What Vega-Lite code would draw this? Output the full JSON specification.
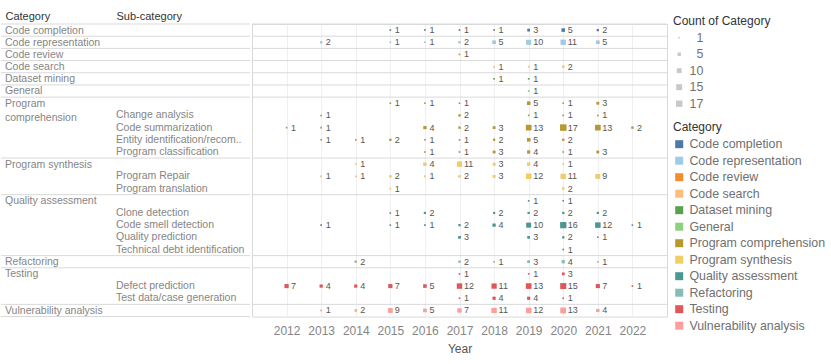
{
  "$schema": "https://vega.github.io/schema/vega-lite/v6.json",
  "padding": {"left": 0, "top": 10, "right": 0, "bottom": 0},
  "background": "white",
  "spacing": 0,
  "config": {
    "font": "Liberation Sans",
    "view": {"stroke": "#d9d9d9"},
    "concat": {"spacing": 0},
    "legend": {
      "titleFontSize": 12,
      "titleFontWeight": "normal",
      "titleColor": "#333333",
      "labelFontSize": 12.4,
      "labelColor": "#707070",
      "rowPadding": 3.5,
      "titlePadding": 4,
      "symbolType": "square",
      "orient": "none"
    }
  },
  "datasets": {
    "rows": [
      {"r": 1, "cat": "Code completion", "catLabel": "Code completion", "sub": "", "line": true},
      {"r": 2, "cat": "Code representation", "catLabel": "Code representation", "sub": "", "line": true},
      {"r": 3, "cat": "Code review", "catLabel": "Code review", "sub": "", "line": true},
      {"r": 4, "cat": "Code search", "catLabel": "Code search", "sub": "", "line": true},
      {"r": 5, "cat": "Dataset mining", "catLabel": "Dataset mining", "sub": "", "line": true},
      {"r": 6, "cat": "General", "catLabel": "General", "sub": "", "line": true},
      {"r": 7, "cat": "Program comprehension", "catLabel": "Program\ncomprehension", "sub": "", "line": true},
      {"r": 8, "cat": "Program comprehension", "catLabel": "", "sub": "Change analysis", "line": false},
      {"r": 9, "cat": "Program comprehension", "catLabel": "", "sub": "Code summarization", "line": false},
      {"r": 10, "cat": "Program comprehension", "catLabel": "", "sub": "Entity identification/recom..", "line": false},
      {"r": 11, "cat": "Program comprehension", "catLabel": "", "sub": "Program classification", "line": false},
      {"r": 12, "cat": "Program synthesis", "catLabel": "Program synthesis", "sub": "", "line": true},
      {"r": 13, "cat": "Program synthesis", "catLabel": "", "sub": "Program Repair", "line": false},
      {"r": 14, "cat": "Program synthesis", "catLabel": "", "sub": "Program translation", "line": false},
      {"r": 15, "cat": "Quality assessment", "catLabel": "Quality assessment", "sub": "", "line": true},
      {"r": 16, "cat": "Quality assessment", "catLabel": "", "sub": "Clone detection", "line": false},
      {"r": 17, "cat": "Quality assessment", "catLabel": "", "sub": "Code smell detection", "line": false},
      {"r": 18, "cat": "Quality assessment", "catLabel": "", "sub": "Quality prediction", "line": false},
      {"r": 19, "cat": "Quality assessment", "catLabel": "", "sub": "Technical debt identification", "line": false},
      {"r": 20, "cat": "Refactoring", "catLabel": "Refactoring", "sub": "", "line": true},
      {"r": 21, "cat": "Testing", "catLabel": "Testing", "sub": "", "line": true},
      {"r": 22, "cat": "Testing", "catLabel": "", "sub": "Defect prediction", "line": false},
      {"r": 23, "cat": "Testing", "catLabel": "", "sub": "Test data/case generation", "line": false},
      {"r": 24, "cat": "Vulnerability analysis", "catLabel": "Vulnerability analysis", "sub": "", "line": true}
    ],
    "cells": [
      {"r": 1, "cat": "Code completion", "year": 2015, "n": 1},
      {"r": 1, "cat": "Code completion", "year": 2016, "n": 1},
      {"r": 1, "cat": "Code completion", "year": 2017, "n": 1},
      {"r": 1, "cat": "Code completion", "year": 2018, "n": 1},
      {"r": 1, "cat": "Code completion", "year": 2019, "n": 3},
      {"r": 1, "cat": "Code completion", "year": 2020, "n": 5},
      {"r": 1, "cat": "Code completion", "year": 2021, "n": 2},
      {"r": 2, "cat": "Code representation", "year": 2013, "n": 2},
      {"r": 2, "cat": "Code representation", "year": 2015, "n": 1},
      {"r": 2, "cat": "Code representation", "year": 2016, "n": 1},
      {"r": 2, "cat": "Code representation", "year": 2017, "n": 2},
      {"r": 2, "cat": "Code representation", "year": 2018, "n": 5},
      {"r": 2, "cat": "Code representation", "year": 2019, "n": 10},
      {"r": 2, "cat": "Code representation", "year": 2020, "n": 11},
      {"r": 2, "cat": "Code representation", "year": 2021, "n": 5},
      {"r": 3, "cat": "Code review", "year": 2017, "n": 1},
      {"r": 4, "cat": "Code search", "year": 2018, "n": 1},
      {"r": 4, "cat": "Code search", "year": 2019, "n": 1},
      {"r": 4, "cat": "Code search", "year": 2020, "n": 2},
      {"r": 5, "cat": "Dataset mining", "year": 2018, "n": 1},
      {"r": 5, "cat": "Dataset mining", "year": 2019, "n": 1},
      {"r": 6, "cat": "General", "year": 2019, "n": 1},
      {"r": 7, "cat": "Program comprehension", "year": 2015, "n": 1},
      {"r": 7, "cat": "Program comprehension", "year": 2016, "n": 1},
      {"r": 7, "cat": "Program comprehension", "year": 2017, "n": 1},
      {"r": 7, "cat": "Program comprehension", "year": 2019, "n": 5},
      {"r": 7, "cat": "Program comprehension", "year": 2020, "n": 1},
      {"r": 7, "cat": "Program comprehension", "year": 2021, "n": 3},
      {"r": 8, "cat": "Program comprehension", "year": 2013, "n": 1},
      {"r": 8, "cat": "Program comprehension", "year": 2017, "n": 2},
      {"r": 8, "cat": "Program comprehension", "year": 2019, "n": 1},
      {"r": 8, "cat": "Program comprehension", "year": 2020, "n": 1},
      {"r": 8, "cat": "Program comprehension", "year": 2021, "n": 1},
      {"r": 9, "cat": "Program comprehension", "year": 2012, "n": 1},
      {"r": 9, "cat": "Program comprehension", "year": 2013, "n": 1},
      {"r": 9, "cat": "Program comprehension", "year": 2016, "n": 4},
      {"r": 9, "cat": "Program comprehension", "year": 2017, "n": 2},
      {"r": 9, "cat": "Program comprehension", "year": 2018, "n": 3},
      {"r": 9, "cat": "Program comprehension", "year": 2019, "n": 13},
      {"r": 9, "cat": "Program comprehension", "year": 2020, "n": 17},
      {"r": 9, "cat": "Program comprehension", "year": 2021, "n": 13},
      {"r": 9, "cat": "Program comprehension", "year": 2022, "n": 2},
      {"r": 10, "cat": "Program comprehension", "year": 2013, "n": 1},
      {"r": 10, "cat": "Program comprehension", "year": 2014, "n": 1},
      {"r": 10, "cat": "Program comprehension", "year": 2015, "n": 2},
      {"r": 10, "cat": "Program comprehension", "year": 2016, "n": 1},
      {"r": 10, "cat": "Program comprehension", "year": 2017, "n": 1},
      {"r": 10, "cat": "Program comprehension", "year": 2018, "n": 2},
      {"r": 10, "cat": "Program comprehension", "year": 2019, "n": 5},
      {"r": 10, "cat": "Program comprehension", "year": 2020, "n": 2},
      {"r": 11, "cat": "Program comprehension", "year": 2016, "n": 1},
      {"r": 11, "cat": "Program comprehension", "year": 2017, "n": 1},
      {"r": 11, "cat": "Program comprehension", "year": 2018, "n": 3},
      {"r": 11, "cat": "Program comprehension", "year": 2019, "n": 4},
      {"r": 11, "cat": "Program comprehension", "year": 2020, "n": 1},
      {"r": 11, "cat": "Program comprehension", "year": 2021, "n": 3},
      {"r": 12, "cat": "Program synthesis", "year": 2014, "n": 1},
      {"r": 12, "cat": "Program synthesis", "year": 2016, "n": 4},
      {"r": 12, "cat": "Program synthesis", "year": 2017, "n": 11},
      {"r": 12, "cat": "Program synthesis", "year": 2018, "n": 3},
      {"r": 12, "cat": "Program synthesis", "year": 2019, "n": 4},
      {"r": 12, "cat": "Program synthesis", "year": 2020, "n": 1},
      {"r": 13, "cat": "Program synthesis", "year": 2013, "n": 1},
      {"r": 13, "cat": "Program synthesis", "year": 2014, "n": 1},
      {"r": 13, "cat": "Program synthesis", "year": 2015, "n": 2},
      {"r": 13, "cat": "Program synthesis", "year": 2016, "n": 1},
      {"r": 13, "cat": "Program synthesis", "year": 2017, "n": 2},
      {"r": 13, "cat": "Program synthesis", "year": 2018, "n": 3},
      {"r": 13, "cat": "Program synthesis", "year": 2019, "n": 12},
      {"r": 13, "cat": "Program synthesis", "year": 2020, "n": 11},
      {"r": 13, "cat": "Program synthesis", "year": 2021, "n": 9},
      {"r": 14, "cat": "Program synthesis", "year": 2015, "n": 1},
      {"r": 14, "cat": "Program synthesis", "year": 2020, "n": 2},
      {"r": 15, "cat": "Quality assessment", "year": 2019, "n": 1},
      {"r": 15, "cat": "Quality assessment", "year": 2020, "n": 1},
      {"r": 16, "cat": "Quality assessment", "year": 2015, "n": 1},
      {"r": 16, "cat": "Quality assessment", "year": 2016, "n": 2},
      {"r": 16, "cat": "Quality assessment", "year": 2018, "n": 2},
      {"r": 16, "cat": "Quality assessment", "year": 2019, "n": 2},
      {"r": 16, "cat": "Quality assessment", "year": 2020, "n": 2},
      {"r": 16, "cat": "Quality assessment", "year": 2021, "n": 2},
      {"r": 17, "cat": "Quality assessment", "year": 2013, "n": 1},
      {"r": 17, "cat": "Quality assessment", "year": 2015, "n": 1},
      {"r": 17, "cat": "Quality assessment", "year": 2016, "n": 1},
      {"r": 17, "cat": "Quality assessment", "year": 2017, "n": 2},
      {"r": 17, "cat": "Quality assessment", "year": 2018, "n": 4},
      {"r": 17, "cat": "Quality assessment", "year": 2019, "n": 10},
      {"r": 17, "cat": "Quality assessment", "year": 2020, "n": 16},
      {"r": 17, "cat": "Quality assessment", "year": 2021, "n": 12},
      {"r": 17, "cat": "Quality assessment", "year": 2022, "n": 1},
      {"r": 18, "cat": "Quality assessment", "year": 2017, "n": 3},
      {"r": 18, "cat": "Quality assessment", "year": 2019, "n": 3},
      {"r": 18, "cat": "Quality assessment", "year": 2020, "n": 2},
      {"r": 18, "cat": "Quality assessment", "year": 2021, "n": 1},
      {"r": 19, "cat": "Quality assessment", "year": 2020, "n": 1},
      {"r": 20, "cat": "Refactoring", "year": 2014, "n": 2},
      {"r": 20, "cat": "Refactoring", "year": 2017, "n": 2},
      {"r": 20, "cat": "Refactoring", "year": 2018, "n": 1},
      {"r": 20, "cat": "Refactoring", "year": 2019, "n": 3},
      {"r": 20, "cat": "Refactoring", "year": 2020, "n": 4},
      {"r": 20, "cat": "Refactoring", "year": 2021, "n": 1},
      {"r": 21, "cat": "Testing", "year": 2017, "n": 1},
      {"r": 21, "cat": "Testing", "year": 2019, "n": 1},
      {"r": 21, "cat": "Testing", "year": 2020, "n": 3},
      {"r": 22, "cat": "Testing", "year": 2012, "n": 7},
      {"r": 22, "cat": "Testing", "year": 2013, "n": 4},
      {"r": 22, "cat": "Testing", "year": 2014, "n": 4},
      {"r": 22, "cat": "Testing", "year": 2015, "n": 7},
      {"r": 22, "cat": "Testing", "year": 2016, "n": 5},
      {"r": 22, "cat": "Testing", "year": 2017, "n": 12},
      {"r": 22, "cat": "Testing", "year": 2018, "n": 11},
      {"r": 22, "cat": "Testing", "year": 2019, "n": 13},
      {"r": 22, "cat": "Testing", "year": 2020, "n": 15},
      {"r": 22, "cat": "Testing", "year": 2021, "n": 7},
      {"r": 22, "cat": "Testing", "year": 2022, "n": 1},
      {"r": 23, "cat": "Testing", "year": 2017, "n": 1},
      {"r": 23, "cat": "Testing", "year": 2018, "n": 4},
      {"r": 23, "cat": "Testing", "year": 2019, "n": 4},
      {"r": 23, "cat": "Testing", "year": 2020, "n": 1},
      {"r": 24, "cat": "Vulnerability analysis", "year": 2013, "n": 1},
      {"r": 24, "cat": "Vulnerability analysis", "year": 2014, "n": 2},
      {"r": 24, "cat": "Vulnerability analysis", "year": 2015, "n": 9},
      {"r": 24, "cat": "Vulnerability analysis", "year": 2016, "n": 5},
      {"r": 24, "cat": "Vulnerability analysis", "year": 2017, "n": 7},
      {"r": 24, "cat": "Vulnerability analysis", "year": 2018, "n": 11},
      {"r": 24, "cat": "Vulnerability analysis", "year": 2019, "n": 12},
      {"r": 24, "cat": "Vulnerability analysis", "year": 2020, "n": 13},
      {"r": 24, "cat": "Vulnerability analysis", "year": 2021, "n": 4}
    ]
  },
  "hconcat": [
    {
      "width": 249,
      "height": {"step": 12.19},
      "view": {"stroke": null},
      "data": {"name": "rows"},
      "layer": [
        {
          "transform": [{"filter": "datum.line"}],
          "mark": {"type": "rule", "color": "#d9d9d9", "strokeWidth": 1},
          "encoding": {
            "y": {"field": "r", "type": "ordinal", "bandPosition": 0, "scale": {"type": "band", "paddingInner": 0, "paddingOuter": 0}, "axis": null}
          }
        },
        {
          "transform": [{"filter": "datum.r == 24"}],
          "mark": {"type": "rule", "color": "#d9d9d9", "strokeWidth": 1},
          "encoding": {
            "y": {"field": "r", "type": "ordinal", "bandPosition": 1, "scale": {"type": "band", "paddingInner": 0, "paddingOuter": 0}, "axis": null}
          }
        },
        {
          "mark": {"type": "text", "align": "left", "baseline": "top", "lineBreak": "\n", "lineHeight": 14, "fontSize": 10.5, "color": "#858585", "dy": 1.5},
          "encoding": {
            "x": {"datum": "Category", "type": "nominal", "scale": {"type": "point", "domain": ["Category", "Sub-category"], "range": [4, 115], "padding": 0}, "axis": {"orient": "top", "title": null, "domain": false, "ticks": false, "grid": false, "labelAlign": "left", "labelBaseline": "bottom", "labelPadding": 3, "labelFontSize": 11, "labelColor": "#333333", "labelAngle": 0}},
            "y": {"field": "r", "type": "ordinal", "bandPosition": 0, "scale": {"type": "band", "paddingInner": 0, "paddingOuter": 0}, "axis": null},
            "text": {"field": "catLabel"}
          }
        },
        {
          "mark": {"type": "text", "align": "left", "baseline": "middle", "fontSize": 10.5, "color": "#858585"},
          "encoding": {
            "x": {"datum": "Sub-category", "type": "nominal"},
            "y": {"field": "r", "type": "ordinal", "scale": {"type": "band", "paddingInner": 0, "paddingOuter": 0}, "axis": null},
            "text": {"field": "sub"}
          }
        }
      ]
    },
    {
      "width": 415,
      "height": {"step": 12.19},
      "layer": [
        {
          "data": {"name": "rows"},
          "transform": [{"filter": "datum.line"}],
          "mark": {"type": "rule", "color": "#d9d9d9", "strokeWidth": 1},
          "encoding": {
            "y": {"field": "r", "type": "ordinal", "bandPosition": 0, "scale": {"type": "band", "paddingInner": 0, "paddingOuter": 0}, "axis": null}
          }
        },
        {
          "data": {"name": "cells"},
          "mark": {"type": "point", "shape": "square", "filled": true, "opacity": 1, "color": "#c8c8c8"},
          "encoding": {
            "x": {"field": "year", "type": "ordinal", "scale": {"type": "point", "padding": 1}, "axis": {"orient": "bottom", "title": "Year", "grid": true, "gridColor": "#efefef", "domain": false, "ticks": false, "labelFontSize": 12, "labelColor": "#858585", "labelPadding": 9, "labelAngle": 0, "titleFontSize": 12, "titleColor": "#555555", "titleFontWeight": "normal", "titlePadding": 7}},
            "y": {"field": "r", "type": "ordinal", "scale": {"type": "band", "paddingInner": 0, "paddingOuter": 0}, "axis": null},
            "size": {"field": "n", "type": "quantitative", "scale": {"domain": [0, 17], "range": [0, 40]}, "legend": {"title": "Count of Category", "values": [1, 5, 10, 15, 17], "symbolType": "square", "legendX": 672, "legendY": -8.5, "labelAlign": "right", "labelOffset": 18}}
          }
        },
        {
          "data": {"name": "cells"},
          "mark": {"type": "point", "shape": "square", "filled": true, "opacity": 1},
          "encoding": {
            "x": {"field": "year", "type": "ordinal"},
            "y": {"field": "r", "type": "ordinal"},
            "size": {"field": "n", "type": "quantitative"},
            "color": {"field": "cat", "type": "nominal", "title": "Category",
              "scale": {
                "domain": ["Code completion", "Code representation", "Code review", "Code search", "Dataset mining", "General", "Program comprehension", "Program synthesis", "Quality assessment", "Refactoring", "Testing", "Vulnerability analysis"],
                "range": ["#4e79a7", "#a0cbe8", "#f28e2b", "#ffbe7d", "#59a14f", "#8cd17d", "#b6992d", "#f1ce63", "#499894", "#86bcb6", "#e15759", "#ff9d9a"]
              },
              "legend": {"symbolType": "square", "symbolSize": 64, "legendX": 672, "legendY": 98}
            }
          }
        },
        {
          "data": {"name": "cells"},
          "mark": {"type": "text", "align": "left", "baseline": "middle", "dx": 4.5, "fontSize": 9, "color": "#555555"},
          "encoding": {
            "x": {"field": "year", "type": "ordinal"},
            "y": {"field": "r", "type": "ordinal"},
            "text": {"field": "n", "type": "quantitative"}
          }
        }
      ]
    }
  ]
}
